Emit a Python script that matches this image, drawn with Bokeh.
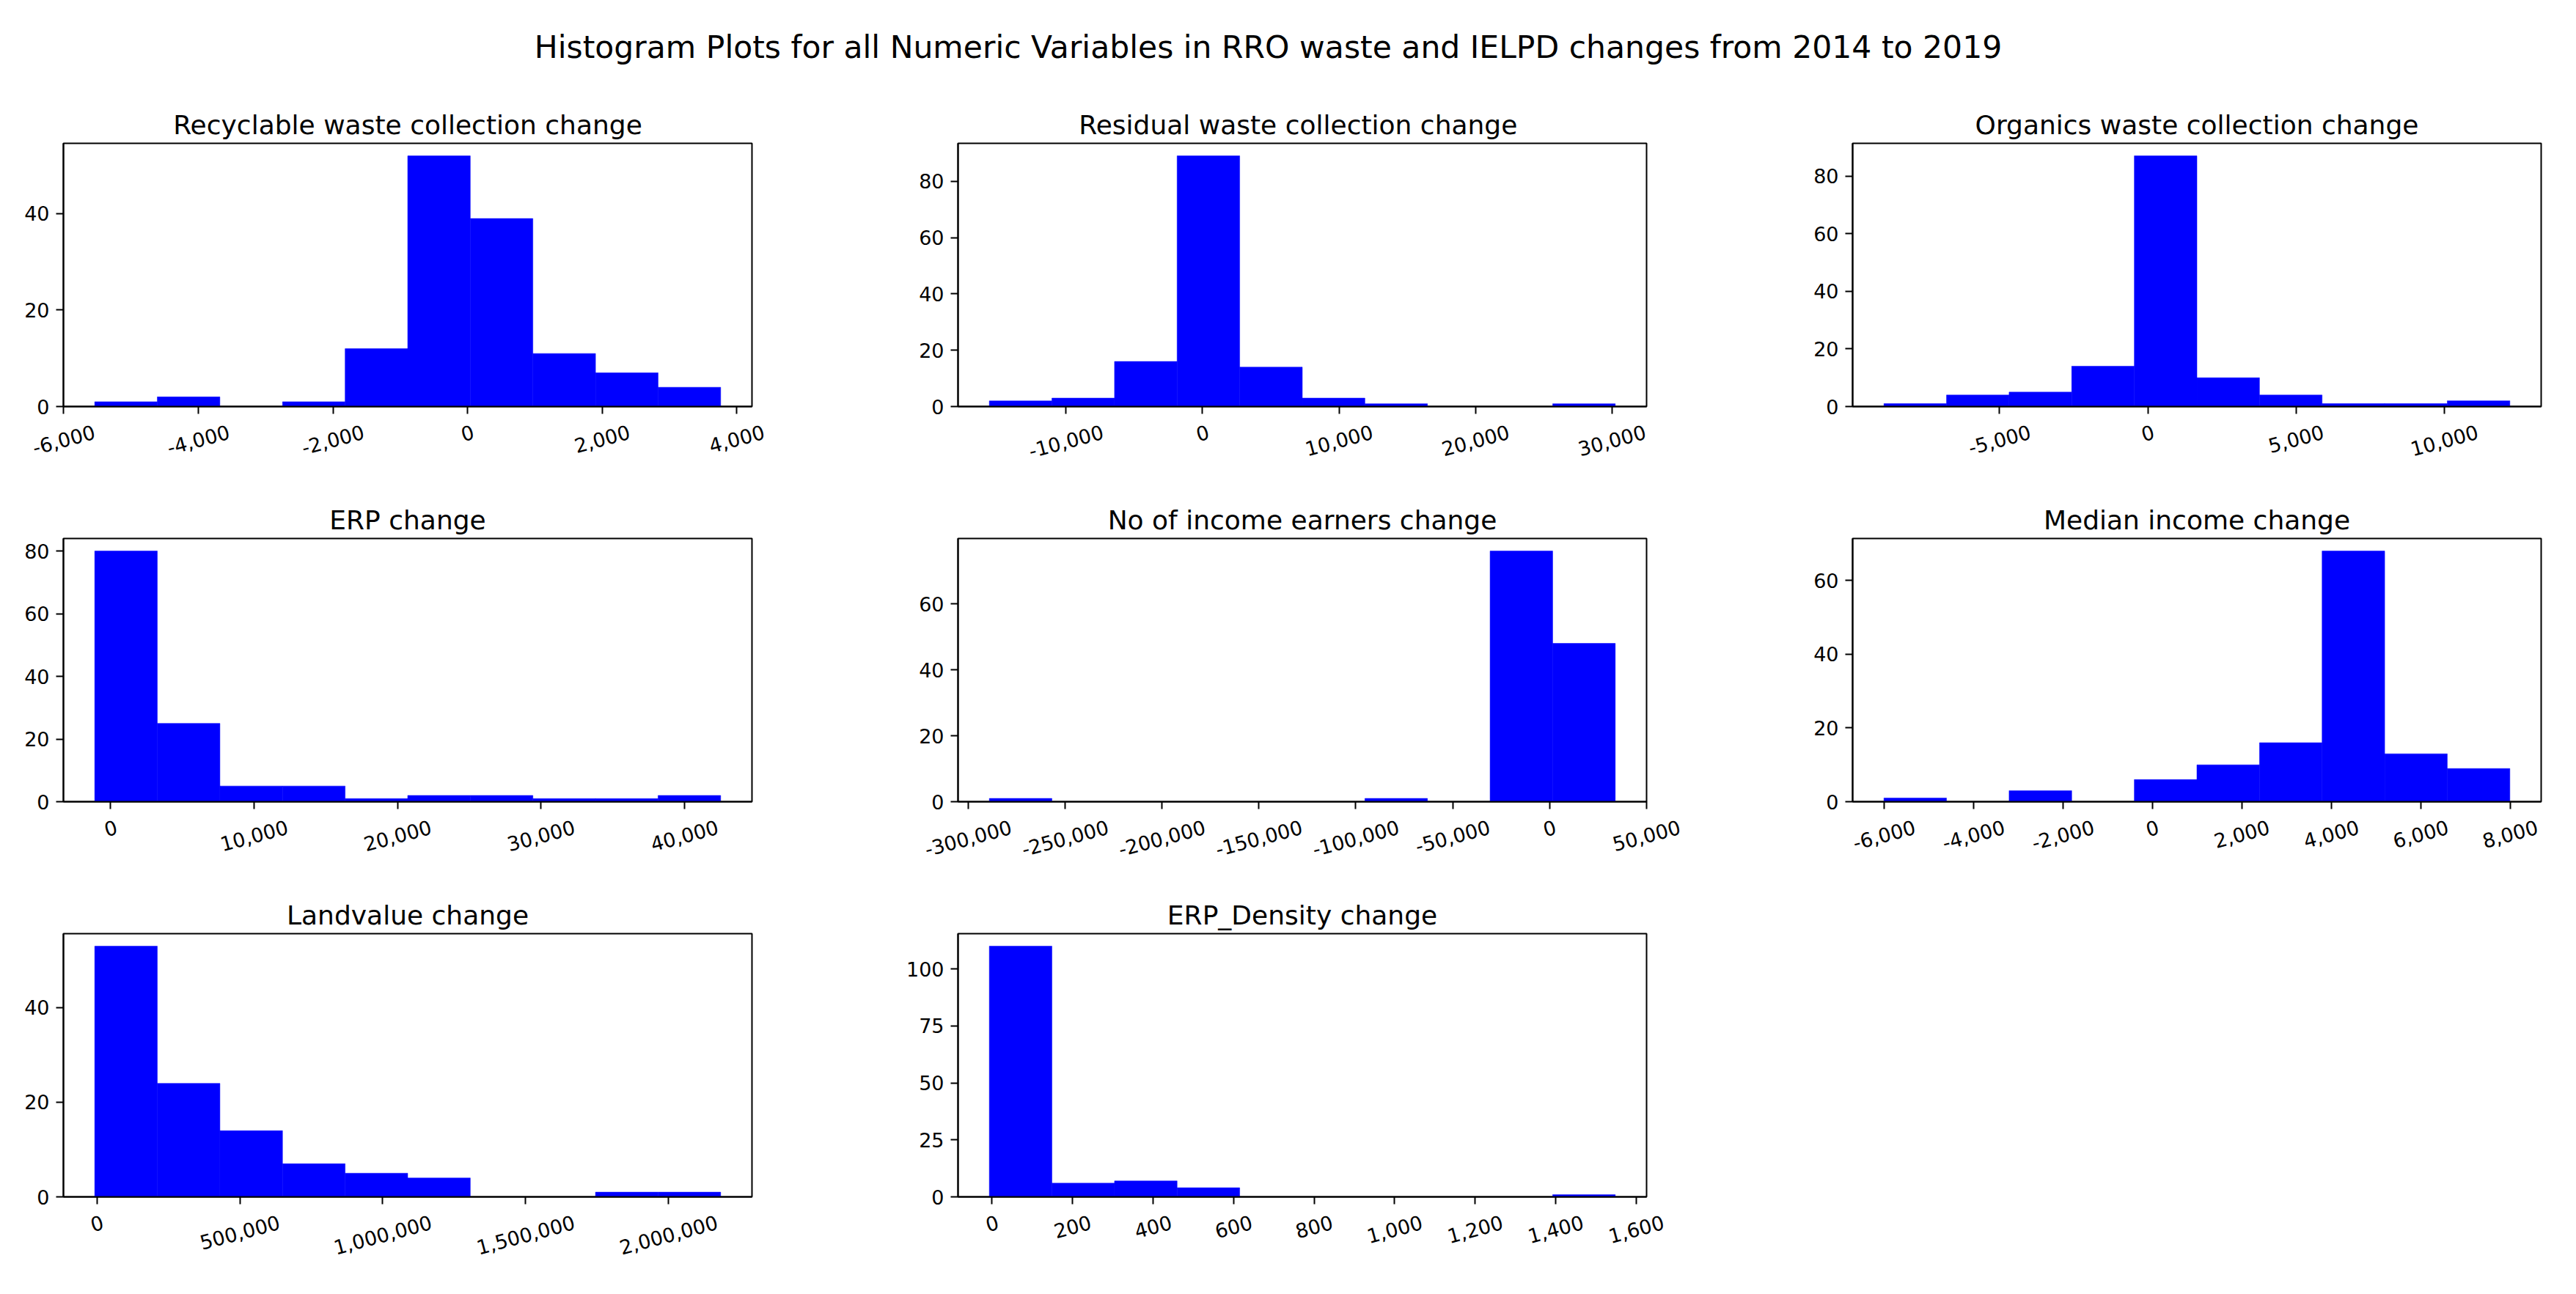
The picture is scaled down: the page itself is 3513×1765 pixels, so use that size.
import math
from bokeh.plotting import figure
from bokeh.layouts import column, row
from bokeh.models import (Range1d, FixedTicker, Label, ColumnDataSource,
                          CustomJSTickFormatter)
from bokeh.core.properties import value
from bokeh.embed import file_html
from bokeh.resources import INLINE

suptitle = "Histogram Plots for all Numeric Variables in RRO waste and IELPD changes from 2014 to 2019"

titles = [
    "Recyclable waste collection change",
    "Residual  waste collection change",
    "Organics waste collection change",
    "ERP change",
    "No of income earners change",
    "Median income change",
    "Landvalue change",
    "ERP_Density change",
]

recyclable_edges = [-5540, -4610, -3680, -2749, -1819, -889, 41, 971, 1902, 2832, 3762]
recyclable_counts = [1, 2, 0, 1, 12, 52, 39, 11, 7, 4]
recyclable_xticks = [-6000, -4000, -2000, 0, 2000, 4000]
recyclable_yticks = [0, 20, 40]

residual_edges = [-15622, -11036, -6449, -1863, 2723, 7310, 11896, 16482, 21068, 25655, 30241]
residual_counts = [2, 3, 16, 89, 14, 3, 1, 0, 0, 1]
residual_xticks = [-10000, 0, 10000, 20000, 30000]
residual_yticks = [0, 20, 40, 60, 80]

organics_edges = [-8898, -6787, -4677, -2566, -455, 1656, 3766, 5877, 7987, 10098, 12209]
organics_counts = [1, 4, 5, 14, 87, 10, 4, 1, 1, 2]
organics_xticks = [-5000, 0, 5000, 10000]
organics_yticks = [0, 20, 40, 60, 80]

erp_edges = [-1108, 3255, 7618, 11981, 16344, 20707, 25070, 29433, 33795, 38158, 42521]
erp_counts = [80, 25, 5, 5, 1, 2, 2, 1, 1, 2]
erp_xticks = [0, 10000, 20000, 30000, 40000]
erp_yticks = [0, 20, 40, 60, 80]

earners_edges = [-289102, -256802, -224501, -192201, -159901, -127601, -95301, -63000, -30700, 1600, 33900]
earners_counts = [1, 0, 0, 0, 0, 0, 1, 0, 76, 48]
earners_xticks = [-300000, -250000, -200000, -150000, -100000, -50000, 0, 50000]
earners_yticks = [0, 20, 40, 60]

median_edges = [-6005, -4605, -3205, -1805, -405, 995, 2395, 3795, 5195, 6595, 7995]
median_counts = [1, 0, 3, 0, 6, 10, 16, 68, 13, 9]
median_xticks = [-6000, -4000, -2000, 0, 2000, 4000, 6000, 8000]
median_yticks = [0, 20, 40, 60]

land_edges = [-7700, 211287, 430274, 649261, 868248, 1087235, 1306222, 1525209, 1744196, 1963183, 2182170]
land_counts = [53, 24, 14, 7, 5, 4, 0, 0, 1, 1]
land_xticks = [0, 500000, 1000000, 1500000, 2000000]
land_yticks = [0, 20, 40]

density_edges = [-6.8, 148.7, 304.2, 459.6, 615.1, 770.6, 926.1, 1081.6, 1237.0, 1392.5, 1548.0]
density_counts = [110, 6, 7, 4, 0, 0, 0, 0, 0, 1]
density_xticks = [0, 200, 400, 600, 800, 1000, 1200, 1400, 1600]
density_yticks = [0, 25, 50, 75, 100]

series = [
    (recyclable_edges, recyclable_counts, recyclable_xticks, recyclable_yticks),
    (residual_edges, residual_counts, residual_xticks, residual_yticks),
    (organics_edges, organics_counts, organics_xticks, organics_yticks),
    (erp_edges, erp_counts, erp_xticks, erp_yticks),
    (earners_edges, earners_counts, earners_xticks, earners_yticks),
    (median_edges, median_counts, median_xticks, median_yticks),
    (land_edges, land_counts, land_xticks, land_yticks),
    (density_edges, density_counts, density_xticks, density_yticks),
]

FONT = "DejaVu Sans"
TICK_FS = 27
FRAME_W, FRAME_H = 939, 359
BORDER_L, BORDER_T, BORDER_B = 86, 85, 17
COL_W = [1220, 1220, 1050]
ROW_H = [539, 539, 554]
ROT = math.radians(15)
CHAR_W = {",": 0.318, "-": 0.361}


def text_width(s):
    return sum(CHAR_W.get(c, 0.636) for c in s) * TICK_FS


def make_hist(title, edges, counts, xticks, yticks, col):
    lo, hi = edges[0], edges[-1]
    pad = 0.05 * (hi - lo)
    top = max(counts) * 1.05
    w = COL_W[col]
    p = figure(width=w, height=BORDER_T + FRAME_H + BORDER_B,
               x_range=Range1d(lo - pad, hi + pad), y_range=Range1d(0, top),
               output_backend="svg", toolbar_location=None, title=title,
               min_border_left=BORDER_L, min_border_right=w - BORDER_L - FRAME_W,
               min_border_top=BORDER_T, min_border_bottom=BORDER_B)
    src = ColumnDataSource(dict(left=edges[:-1], right=edges[1:], top=counts,
                                bottom=[0] * len(counts)))
    p.quad(left="left", right="right", top="top", bottom="bottom", source=src,
           fill_color="#0000ff", line_color="#0000ff", line_width=0.5)
    p.title.text_font = FONT
    p.title.text_font_size = "36px"
    p.title.text_font_style = "normal"
    p.title.align = "center"
    p.title.text_color = "black"
    p.grid.visible = False
    p.outline_line_color = "black"
    p.outline_line_width = 2
    p.outline_line_alpha = 1
    p.background_fill_color = "white"
    p.border_fill_color = "white"
    for ax in p.axis:
        ax.axis_line_color = "black"
        ax.axis_line_width = 2
        ax.major_tick_line_color = "black"
        ax.major_tick_line_width = 2
        ax.major_tick_out = 10
        ax.major_tick_in = 0
        ax.minor_tick_out = 0
        ax.minor_tick_in = 0
        ax.major_label_text_font = FONT
        ax.major_label_text_font_size = f"{TICK_FS}px"
        ax.major_label_text_color = "black"
        ax.major_label_standoff = 9
    p.xaxis.ticker = FixedTicker(ticks=xticks)
    p.xaxis.formatter = CustomJSTickFormatter(code="return ''")
    p.xaxis.major_label_text_font_size = "0px"
    p.xaxis.major_label_standoff = 0
    p.yaxis.ticker = FixedTicker(ticks=yticks)
    return p


def make_strip(edges, xticks, col, r):
    # strip below a histogram carrying its rotated, centred x tick labels;
    # same pixels-per-unit as the histogram, with a wider frame so labels are not cut
    lo, hi = edges[0], edges[-1]
    pad = 0.05 * (hi - lo)
    xlo, xhi = lo - pad, hi + pad
    k = (xhi - xlo) / FRAME_W
    w = COL_W[col]
    right = w - BORDER_L - FRAME_W
    m_l = BORDER_L - 4
    m_r = max(right - 4, 0)
    sh = ROW_H[r] - (BORDER_T + FRAME_H + BORDER_B)
    s = figure(width=w, height=sh,
               x_range=Range1d(xlo - m_l * k, xhi + m_r * k), y_range=Range1d(0, sh),
               output_backend="svg", toolbar_location=None,
               x_axis_location=None, y_axis_location=None,
               min_border_left=BORDER_L - m_l, min_border_right=right - m_r,
               min_border_top=0, min_border_bottom=0, frame_align=False)
    s.outline_line_color = None
    s.grid.visible = False
    s.background_fill_color = "white"
    s.border_fill_color = "white"
    texts = [f"{v:,}" for v in xticks]
    ys = [sh - (34 + text_width(t) * math.sin(ROT) / 2 - BORDER_B) for t in texts]
    lsrc = ColumnDataSource(dict(x=xticks, y=ys, text=texts))
    s.text(x="x", y="y", text="text", source=lsrc, angle=ROT,
           text_align="center", text_baseline="middle",
           text_font=value(FONT), text_font_size=f"{TICK_FS}px", text_color="black")
    return s


cells = []
for i, (t, sr) in enumerate(zip(titles, series)):
    h = make_hist(t, sr[0], sr[1], sr[2], sr[3], i % 3)
    s = make_strip(sr[0], sr[2], i % 3, i // 3)
    cells.append(column(h, s, spacing=0))

tf = figure(width=3490, height=110, x_range=Range1d(0, 1), y_range=Range1d(0, 1),
            output_backend="svg", toolbar_location=None,
            x_axis_location=None, y_axis_location=None, min_border=0,
            frame_align=False)
tf.outline_line_color = None
tf.grid.visible = False
tf.add_layout(Label(x=(1737 - 8) / 3490, y=1 - 64 / 110, text=suptitle,
                    text_align="center", text_baseline="alphabetic",
                    text_font_size="42.5px", text_font=FONT, text_color="black"))

layout = column(tf,
                row(cells[0], cells[1], cells[2], spacing=0),
                row(cells[3], cells[4], cells[5], spacing=0),
                row(cells[6], cells[7], spacing=0),
                spacing=0)
open("out.html", "w").write(file_html(layout, INLINE))
